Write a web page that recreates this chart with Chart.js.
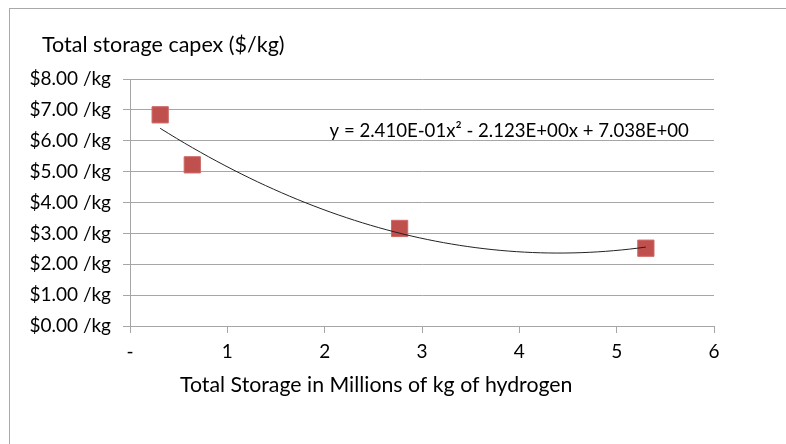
<!DOCTYPE html>
<html>
<head>
<meta charset="utf-8">
<script src="https://cdn.jsdelivr.net/npm/chart.js@4/dist/chart.umd.min.js"></script>
<style>
  html, body { margin: 0; padding: 0; background: #fff; overflow: hidden; }
  #frame { position: absolute; left: 9px; top: 8px; width: 820px; height: 480px; border: 1.5px solid #a8a8a8; }
  #chart { position: absolute; left: 0; top: 0; }
</style>
</head>
<body>
<div id="frame"></div>
<canvas id="chart" width="786" height="444"></canvas>
<script>
// data
let storageMkg = [0.31, 0.64, 2.77, 5.30];
let capexPerKg = [6.84, 5.22, 3.16, 2.52];
// trendline coefficients as printed on the chart (a*x^2 + b*x + c)
let trendCoef = [0.241, -2.123, 7.038];
let yTicks = [0, 1, 2, 3, 4, 5, 6, 7, 8];
let xTicks = [0, 1, 2, 3, 4, 5, 6];

let yTitle = 'Total storage capex ($/kg)';
let xTitle = 'Total Storage in Millions of kg of hydrogen';
let eqText = 'y = 2.410E-01x\u00B2 - 2.123E+00x + 7.038E+00';

let FONT = 'Lato, "Open Sans", sans-serif';

// trendline points along the data range, from the printed equation
let trendPts = [];
let xMin = Math.min(...storageMkg), xMax = Math.max(...storageMkg);
for (let i = 0; i <= 60; i++) {
  let x = xMin + (xMax - xMin) * i / 60;
  trendPts.push({x: x, y: trendCoef[0] * x * x + trendCoef[1] * x + trendCoef[2]});
}

let points = storageMkg.map((x, i) => ({x: x, y: capexPerKg[i]}));

// titles and equation drawn as text
let labelsPlugin = {
  id: 'labels',
  afterDraw(chart) {
    let c = chart.ctx;
    let xs = chart.scales.x, ys = chart.scales.y;
    c.save();
    c.fillStyle = '#000';
    c.textBaseline = 'middle';
    c.textAlign = 'left';
    c.font = '21.5px ' + FONT;
    c.fillText(yTitle, 42, 45);
    c.font = '21.3px ' + FONT;
    c.fillText(xTitle, 180, 385);
    c.font = '18.6px ' + FONT;
    c.fillText(eqText, xs.getPixelForValue(2.05), ys.getPixelForValue(6.3));
    c.restore();
  }
};

let ctx = document.getElementById('chart').getContext('2d');
let chart = new Chart(ctx, {
  type: 'scatter',
  data: {
    datasets: [{
      label: 'trend',
      data: trendPts,
      showLine: true,
      borderColor: '#222',
      borderWidth: 1,
      pointRadius: 0,
      tension: 0
    }, {
      label: 'capex',
      data: points,
      pointStyle: 'rect',
      pointRadius: 11.5,
      backgroundColor: '#C0504D',
      borderColor: '#CC6A67',
      borderWidth: 1
    }]
  },
  options: {
    responsive: false,
    animation: false,
    layout: { padding: { left: 10, top: 79, right: 72, bottom: 0 } },
    plugins: { legend: { display: false }, tooltip: { enabled: false } },
    scales: {
      x: {
        type: 'linear',
        min: 0, max: 6,
        afterBuildTicks: s => { s.ticks = xTicks.map(v => ({value: v})); },
        afterFit: s => { s.height = 118; },
        ticks: {
          padding: 7,
          color: '#000',
          font: { family: FONT, size: 19 },
          callback: v => v === 0 ? '-' : String(v)
        },
        grid: { drawOnChartArea: false, color: '#a6a6a6', tickLength: 7, tickColor: '#a6a6a6' },
        border: { color: '#a6a6a6' }
      },
      y: {
        min: 0, max: 8,
        afterBuildTicks: s => { s.ticks = yTicks.map(v => ({value: v})); },
        afterFit: s => { s.width = 120; },
        ticks: {
          padding: 12,
          color: '#000',
          font: { family: FONT, size: 19 },
          callback: v => '$' + v.toFixed(2) + ' /kg'
        },
        grid: { color: '#a6a6a6', tickLength: 7, tickColor: '#a6a6a6' },
        border: { color: '#a6a6a6' }
      }
    }
  },
  plugins: [labelsPlugin]
});
</script>
</body>
</html>
